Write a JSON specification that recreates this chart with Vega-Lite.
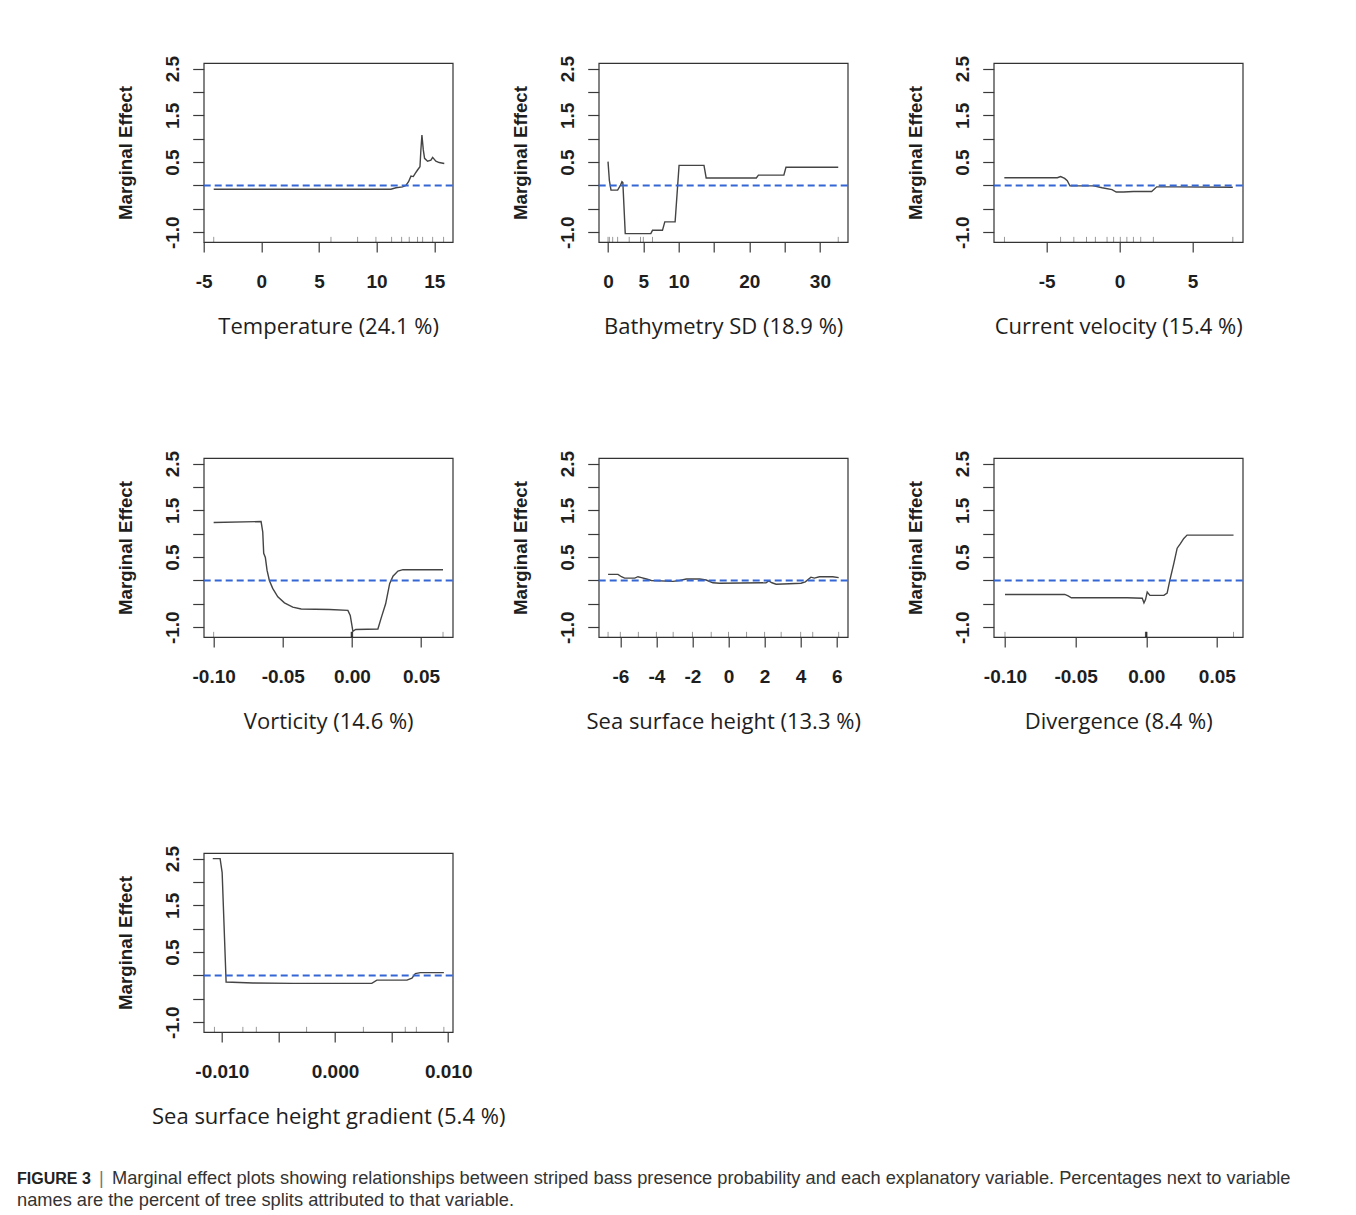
{
  "$schema": "https://vega.github.io/schema/vega-lite/v6.json",
  "padding": {"left": 17, "top": 54, "right": 0, "bottom": 0},
  "background": "white",
  "datasets": {
    "zero": [{"y": 0}],
    "caption": [
      {"line": 1, "part": "head", "text": "FIGURE 3"},
      {"line": 1, "part": "bar", "text": "|"},
      {"line": 1, "part": "body", "text": "Marginal effect plots showing relationships between striped bass presence probability and each explanatory variable. Percentages next to variable"},
      {"line": 2, "part": "body2", "text": "names are the percent of tree splits attributed to that variable."}
    ],
    "temp": [
      {"x": -4.13, "y": -0.08}, {"x": 11.24, "y": -0.08}, {"x": 11.68, "y": -0.05}, {"x": 12.25, "y": -0.03},
      {"x": 12.54, "y": 0.0}, {"x": 12.77, "y": 0.08}, {"x": 12.98, "y": 0.2}, {"x": 13.18, "y": 0.19},
      {"x": 13.35, "y": 0.26}, {"x": 13.55, "y": 0.33}, {"x": 13.76, "y": 0.4}, {"x": 13.84, "y": 0.76},
      {"x": 13.93, "y": 1.08}, {"x": 14.05, "y": 0.76}, {"x": 14.16, "y": 0.58}, {"x": 14.42, "y": 0.52},
      {"x": 14.71, "y": 0.54}, {"x": 14.86, "y": 0.6}, {"x": 15.14, "y": 0.52}, {"x": 15.43, "y": 0.49},
      {"x": 15.87, "y": 0.47}
    ],
    "temp_rug": [{"x": -4.13}, {"x": 6.04}, {"x": 8.35}, {"x": 9.94}, {"x": 11.3}, {"x": 12.17}, {"x": 12.83}, {"x": 13.55}, {"x": 13.99}, {"x": 14.86}, {"x": 15.81}],
    "bathy": [
      {"x": 0, "y": 0.51}, {"x": 0.19, "y": 0.11}, {"x": 0.42, "y": -0.1}, {"x": 1.36, "y": -0.1},
      {"x": 1.75, "y": 0.0}, {"x": 1.97, "y": 0.08}, {"x": 2.1, "y": 0.06}, {"x": 2.44, "y": -1.03},
      {"x": 6.06, "y": -1.03}, {"x": 6.3, "y": -0.96}, {"x": 7.71, "y": -0.96}, {"x": 8.04, "y": -0.78},
      {"x": 9.5, "y": -0.78}, {"x": 10.06, "y": 0.43}, {"x": 13.59, "y": 0.43}, {"x": 13.9, "y": 0.16},
      {"x": 21.0, "y": 0.16}, {"x": 21.3, "y": 0.22}, {"x": 24.9, "y": 0.22}, {"x": 25.2, "y": 0.39},
      {"x": 32.6, "y": 0.39}
    ],
    "bathy_rug": [{"x": 0}, {"x": 0.19}, {"x": 0.66}, {"x": 1.36}, {"x": 3.0}, {"x": 4.6}, {"x": 5.0}, {"x": 6.3}, {"x": 32.6}],
    "vel": [
      {"x": -7.91, "y": 0.165}, {"x": -4.27, "y": 0.165}, {"x": -4.05, "y": 0.19}, {"x": -3.77, "y": 0.15},
      {"x": -3.59, "y": 0.1}, {"x": -3.41, "y": -0.01}, {"x": -1.77, "y": -0.01}, {"x": -1.2, "y": -0.05},
      {"x": -0.52, "y": -0.09}, {"x": -0.23, "y": -0.14}, {"x": 0.27, "y": -0.14}, {"x": 0.95, "y": -0.13},
      {"x": 2.2, "y": -0.13}, {"x": 2.55, "y": -0.03}, {"x": 3.9, "y": -0.03}, {"x": 7.77, "y": -0.04}
    ],
    "vel_rug": [{"x": -7.9}, {"x": -4.05}, {"x": -3.14}, {"x": -2.27}, {"x": -1.66}, {"x": -0.86}, {"x": -0.41}, {"x": 0.05}, {"x": 0.5}, {"x": 0.95}, {"x": 1.45}, {"x": 2.32}, {"x": 7.77}],
    "vort": [
      {"x": -0.1, "y": 1.24}, {"x": -0.0657, "y": 1.26}, {"x": -0.0645, "y": 1.04}, {"x": -0.0638, "y": 0.58},
      {"x": -0.0626, "y": 0.49}, {"x": -0.0614, "y": 0.22}, {"x": -0.0597, "y": 0.0}, {"x": -0.0573, "y": -0.17},
      {"x": -0.0536, "y": -0.35}, {"x": -0.0488, "y": -0.48}, {"x": -0.0428, "y": -0.57}, {"x": -0.0367, "y": -0.61},
      {"x": -0.0162, "y": -0.62}, {"x": -0.0029, "y": -0.64}, {"x": -0.0012, "y": -0.75}, {"x": 0.0, "y": -0.96},
      {"x": 0.0007, "y": -1.09}, {"x": 0.0027, "y": -1.05}, {"x": 0.0188, "y": -1.04}, {"x": 0.0213, "y": -0.79},
      {"x": 0.0244, "y": -0.5}, {"x": 0.0273, "y": -0.07}, {"x": 0.0297, "y": 0.09}, {"x": 0.0333, "y": 0.2},
      {"x": 0.0369, "y": 0.23}, {"x": 0.0659, "y": 0.23}
    ],
    "vort_rug": [{"x": -0.1}, {"x": -0.0006}, {"x": -0.0004}, {"x": -0.0002}, {"x": 0.0}, {"x": 0.0002}, {"x": 0.0004}, {"x": 0.0006}, {"x": 0.0659}],
    "ssh": [
      {"x": -6.68, "y": 0.13}, {"x": -6.13, "y": 0.13}, {"x": -5.94, "y": 0.08}, {"x": -5.76, "y": 0.05},
      {"x": -5.2, "y": 0.05}, {"x": -5.02, "y": 0.08}, {"x": -4.83, "y": 0.06}, {"x": -4.55, "y": 0.03},
      {"x": -4.28, "y": 0.0}, {"x": -3.08, "y": -0.02}, {"x": -2.71, "y": 0.0}, {"x": -2.34, "y": 0.03},
      {"x": -1.6, "y": 0.03}, {"x": -1.24, "y": 0.01}, {"x": -0.87, "y": -0.05}, {"x": -0.5, "y": -0.06},
      {"x": 2.08, "y": -0.05}, {"x": 2.23, "y": -0.01}, {"x": 2.41, "y": -0.05}, {"x": 2.64, "y": -0.08},
      {"x": 3.37, "y": -0.07}, {"x": 4.02, "y": -0.06}, {"x": 4.26, "y": -0.03}, {"x": 4.57, "y": 0.07},
      {"x": 4.76, "y": 0.05}, {"x": 5.04, "y": 0.08}, {"x": 5.78, "y": 0.08}, {"x": 6.11, "y": 0.06}
    ],
    "ssh_rug": [{"x": -6.68}, {"x": -6.0}, {"x": -5.0}, {"x": -4.0}, {"x": -3.07}, {"x": -2.0}, {"x": -0.96}, {"x": 0.0}, {"x": 1.0}, {"x": 2.0}, {"x": 2.92}, {"x": 4.0}, {"x": 4.67}, {"x": 6.11}],
    "div": [
      {"x": -0.1, "y": -0.3}, {"x": -0.0577, "y": -0.3}, {"x": -0.0553, "y": -0.33}, {"x": -0.053, "y": -0.37},
      {"x": -0.0134, "y": -0.37}, {"x": -0.0028, "y": -0.38}, {"x": -0.0016, "y": -0.48}, {"x": -0.0005, "y": -0.41},
      {"x": 0.0007, "y": -0.25}, {"x": 0.0026, "y": -0.32}, {"x": 0.0125, "y": -0.32}, {"x": 0.0148, "y": -0.27},
      {"x": 0.0167, "y": 0.0}, {"x": 0.0195, "y": 0.36}, {"x": 0.0219, "y": 0.69}, {"x": 0.0242, "y": 0.79},
      {"x": 0.0266, "y": 0.9}, {"x": 0.0289, "y": 0.97}, {"x": 0.0618, "y": 0.97}
    ],
    "div_rug": [{"x": -0.1}, {"x": -0.0006}, {"x": -0.0004}, {"x": -0.0002}, {"x": 0.0}, {"x": 0.0002}, {"x": 0.0004}, {"x": 0.0006}, {"x": 0.0618}],
    "grad": [
      {"x": -0.0108, "y": 2.5}, {"x": -0.01015, "y": 2.5}, {"x": -0.00997, "y": 2.2}, {"x": -0.00962, "y": -0.14},
      {"x": -0.00725, "y": -0.16}, {"x": -0.0037, "y": -0.17}, {"x": -0.0002, "y": -0.17}, {"x": 0.00325, "y": -0.17},
      {"x": 0.0037, "y": -0.1}, {"x": 0.00636, "y": -0.1}, {"x": 0.0068, "y": -0.06}, {"x": 0.0071, "y": 0.04},
      {"x": 0.00754, "y": 0.06}, {"x": 0.00962, "y": 0.06}
    ],
    "grad_rug": [{"x": -0.01065}, {"x": -0.00814}, {"x": -0.00695}, {"x": -0.00251}, {"x": 0.00251}, {"x": 0.00621}, {"x": 0.00719}, {"x": 0.00962}]
  },
  "vconcat": [
    {
      "columns": 3,
      "bounds": "flush",
      "spacing": {"row": 216, "column": 146},
      "concat": [
        {
          "width": 249, "height": 179,
          "layer": [
            {"data": {"name": "temp"}, "mark": {"type": "line", "color": "#444444", "strokeWidth": 1.4},
             "encoding": {
               "x": {"field": "x", "type": "quantitative", "scale": {"domain": [-5, 16.6], "nice": false, "zero": false}, "axis": {"values": [-5, 0, 5, 10, 15], "title": "Temperature (24.1 %)", "labelExpr": "replace(datum.label, '−', '-')"}},
               "y": {"field": "y", "type": "quantitative", "scale": {"domain": [-1.21, 2.62], "nice": false, "zero": false}, "axis": {"values": [-1, -0.5, 0, 0.5, 1, 1.5, 2, 2.5], "format": ".1f", "title": "Marginal Effect", "labelExpr": "indexof(['2.5', '1.5', '0.5', '-1.0', '−1.0'], datum.label) >= 0 ? replace(datum.label, '−', '-') : ''"}}
             }},
            {"data": {"name": "temp_rug"}, "mark": {"type": "rule", "color": "#000000", "opacity": 0.4, "strokeWidth": 1}, "encoding": {"x": {"field": "x", "type": "quantitative"}, "y": {"datum": -1.21, "type": "quantitative", "axis": {"values": [-1, -0.5, 0, 0.5, 1, 1.5, 2, 2.5], "format": ".1f", "title": "Marginal Effect", "labelExpr": "indexof(['2.5', '1.5', '0.5', '-1.0', '−1.0'], datum.label) >= 0 ? replace(datum.label, '−', '-') : ''"}}, "y2": {"datum": -1.1}}},
            {"data": {"name": "zero"}, "mark": {"type": "rule", "color": "#3566d6", "strokeDash": [7, 4], "strokeWidth": 2}, "encoding": {"y": {"field": "y", "type": "quantitative", "axis": {"values": [-1, -0.5, 0, 0.5, 1, 1.5, 2, 2.5], "format": ".1f", "title": "Marginal Effect", "labelExpr": "indexof(['2.5', '1.5', '0.5', '-1.0', '−1.0'], datum.label) >= 0 ? replace(datum.label, '−', '-') : ''"}}}}
          ]
        },
        {
          "width": 249, "height": 179,
          "layer": [
            {"data": {"name": "bathy"}, "mark": {"type": "line", "color": "#444444", "strokeWidth": 1.4},
             "encoding": {
               "x": {"field": "x", "type": "quantitative", "scale": {"domain": [-1.32, 33.94], "nice": false, "zero": false}, "axis": {"values": [0, 5, 10, 15, 20, 25, 30], "title": "Bathymetry SD (18.9 %)", "labelExpr": "datum.value == 15 || datum.value == 25 ? '' : datum.label"}},
               "y": {"field": "y", "type": "quantitative", "scale": {"domain": [-1.21, 2.62], "nice": false, "zero": false}, "axis": {"values": [-1, -0.5, 0, 0.5, 1, 1.5, 2, 2.5], "format": ".1f", "title": "Marginal Effect", "labelExpr": "indexof(['2.5', '1.5', '0.5', '-1.0', '−1.0'], datum.label) >= 0 ? replace(datum.label, '−', '-') : ''"}}
             }},
            {"data": {"name": "bathy_rug"}, "mark": {"type": "rule", "color": "#000000", "opacity": 0.4, "strokeWidth": 1}, "encoding": {"x": {"field": "x", "type": "quantitative"}, "y": {"datum": -1.21, "type": "quantitative", "axis": {"values": [-1, -0.5, 0, 0.5, 1, 1.5, 2, 2.5], "format": ".1f", "title": "Marginal Effect", "labelExpr": "indexof(['2.5', '1.5', '0.5', '-1.0', '−1.0'], datum.label) >= 0 ? replace(datum.label, '−', '-') : ''"}}, "y2": {"datum": -1.1}}},
            {"data": {"name": "zero"}, "mark": {"type": "rule", "color": "#3566d6", "strokeDash": [7, 4], "strokeWidth": 2}, "encoding": {"y": {"field": "y", "type": "quantitative", "axis": {"values": [-1, -0.5, 0, 0.5, 1, 1.5, 2, 2.5], "format": ".1f", "title": "Marginal Effect", "labelExpr": "indexof(['2.5', '1.5', '0.5', '-1.0', '−1.0'], datum.label) >= 0 ? replace(datum.label, '−', '-') : ''"}}}}
          ]
        },
        {
          "width": 249, "height": 179,
          "layer": [
            {"data": {"name": "vel"}, "mark": {"type": "line", "color": "#444444", "strokeWidth": 1.4},
             "encoding": {
               "x": {"field": "x", "type": "quantitative", "scale": {"domain": [-8.64, 8.45], "nice": false, "zero": false}, "axis": {"values": [-5, 0, 5], "title": "Current velocity (15.4 %)", "labelExpr": "replace(datum.label, '−', '-')"}},
               "y": {"field": "y", "type": "quantitative", "scale": {"domain": [-1.21, 2.62], "nice": false, "zero": false}, "axis": {"values": [-1, -0.5, 0, 0.5, 1, 1.5, 2, 2.5], "format": ".1f", "title": "Marginal Effect", "labelExpr": "indexof(['2.5', '1.5', '0.5', '-1.0', '−1.0'], datum.label) >= 0 ? replace(datum.label, '−', '-') : ''"}}
             }},
            {"data": {"name": "vel_rug"}, "mark": {"type": "rule", "color": "#000000", "opacity": 0.4, "strokeWidth": 1}, "encoding": {"x": {"field": "x", "type": "quantitative"}, "y": {"datum": -1.21, "type": "quantitative", "axis": {"values": [-1, -0.5, 0, 0.5, 1, 1.5, 2, 2.5], "format": ".1f", "title": "Marginal Effect", "labelExpr": "indexof(['2.5', '1.5', '0.5', '-1.0', '−1.0'], datum.label) >= 0 ? replace(datum.label, '−', '-') : ''"}}, "y2": {"datum": -1.1}}},
            {"data": {"name": "zero"}, "mark": {"type": "rule", "color": "#3566d6", "strokeDash": [7, 4], "strokeWidth": 2}, "encoding": {"y": {"field": "y", "type": "quantitative", "axis": {"values": [-1, -0.5, 0, 0.5, 1, 1.5, 2, 2.5], "format": ".1f", "title": "Marginal Effect", "labelExpr": "indexof(['2.5', '1.5', '0.5', '-1.0', '−1.0'], datum.label) >= 0 ? replace(datum.label, '−', '-') : ''"}}}}
          ]
        },
        {
          "width": 249, "height": 179,
          "layer": [
            {"data": {"name": "vort"}, "mark": {"type": "line", "color": "#444444", "strokeWidth": 1.4},
             "encoding": {
               "x": {"field": "x", "type": "quantitative", "scale": {"domain": [-0.1072, 0.0729], "nice": false, "zero": false}, "axis": {"values": [-0.1, -0.05, 0, 0.05], "format": ".2f", "title": "Vorticity (14.6 %)", "labelExpr": "replace(datum.label, '−', '-')"}},
               "y": {"field": "y", "type": "quantitative", "scale": {"domain": [-1.21, 2.62], "nice": false, "zero": false}, "axis": {"values": [-1, -0.5, 0, 0.5, 1, 1.5, 2, 2.5], "format": ".1f", "title": "Marginal Effect", "labelExpr": "indexof(['2.5', '1.5', '0.5', '-1.0', '−1.0'], datum.label) >= 0 ? replace(datum.label, '−', '-') : ''"}}
             }},
            {"data": {"name": "vort_rug"}, "mark": {"type": "rule", "color": "#000000", "opacity": 0.4, "strokeWidth": 1}, "encoding": {"x": {"field": "x", "type": "quantitative"}, "y": {"datum": -1.21, "type": "quantitative", "axis": {"values": [-1, -0.5, 0, 0.5, 1, 1.5, 2, 2.5], "format": ".1f", "title": "Marginal Effect", "labelExpr": "indexof(['2.5', '1.5', '0.5', '-1.0', '−1.0'], datum.label) >= 0 ? replace(datum.label, '−', '-') : ''"}}, "y2": {"datum": -1.1}}},
            {"data": {"name": "zero"}, "mark": {"type": "rule", "color": "#3566d6", "strokeDash": [7, 4], "strokeWidth": 2}, "encoding": {"y": {"field": "y", "type": "quantitative", "axis": {"values": [-1, -0.5, 0, 0.5, 1, 1.5, 2, 2.5], "format": ".1f", "title": "Marginal Effect", "labelExpr": "indexof(['2.5', '1.5', '0.5', '-1.0', '−1.0'], datum.label) >= 0 ? replace(datum.label, '−', '-') : ''"}}}}
          ]
        },
        {
          "width": 249, "height": 179,
          "layer": [
            {"data": {"name": "ssh"}, "mark": {"type": "line", "color": "#444444", "strokeWidth": 1.4},
             "encoding": {
               "x": {"field": "x", "type": "quantitative", "scale": {"domain": [-7.2, 6.61], "nice": false, "zero": false}, "axis": {"values": [-6, -4, -2, 0, 2, 4, 6], "title": "Sea surface height (13.3 %)", "labelExpr": "replace(datum.label, '−', '-')"}},
               "y": {"field": "y", "type": "quantitative", "scale": {"domain": [-1.21, 2.62], "nice": false, "zero": false}, "axis": {"values": [-1, -0.5, 0, 0.5, 1, 1.5, 2, 2.5], "format": ".1f", "title": "Marginal Effect", "labelExpr": "indexof(['2.5', '1.5', '0.5', '-1.0', '−1.0'], datum.label) >= 0 ? replace(datum.label, '−', '-') : ''"}}
             }},
            {"data": {"name": "ssh_rug"}, "mark": {"type": "rule", "color": "#000000", "opacity": 0.4, "strokeWidth": 1}, "encoding": {"x": {"field": "x", "type": "quantitative"}, "y": {"datum": -1.21, "type": "quantitative", "axis": {"values": [-1, -0.5, 0, 0.5, 1, 1.5, 2, 2.5], "format": ".1f", "title": "Marginal Effect", "labelExpr": "indexof(['2.5', '1.5', '0.5', '-1.0', '−1.0'], datum.label) >= 0 ? replace(datum.label, '−', '-') : ''"}}, "y2": {"datum": -1.1}}},
            {"data": {"name": "zero"}, "mark": {"type": "rule", "color": "#3566d6", "strokeDash": [7, 4], "strokeWidth": 2}, "encoding": {"y": {"field": "y", "type": "quantitative", "axis": {"values": [-1, -0.5, 0, 0.5, 1, 1.5, 2, 2.5], "format": ".1f", "title": "Marginal Effect", "labelExpr": "indexof(['2.5', '1.5', '0.5', '-1.0', '−1.0'], datum.label) >= 0 ? replace(datum.label, '−', '-') : ''"}}}}
          ]
        },
        {
          "width": 249, "height": 179,
          "layer": [
            {"data": {"name": "div"}, "mark": {"type": "line", "color": "#444444", "strokeWidth": 1.4},
             "encoding": {
               "x": {"field": "x", "type": "quantitative", "scale": {"domain": [-0.108, 0.0683], "nice": false, "zero": false}, "axis": {"values": [-0.1, -0.05, 0, 0.05], "format": ".2f", "title": "Divergence (8.4 %)", "labelExpr": "replace(datum.label, '−', '-')"}},
               "y": {"field": "y", "type": "quantitative", "scale": {"domain": [-1.21, 2.62], "nice": false, "zero": false}, "axis": {"values": [-1, -0.5, 0, 0.5, 1, 1.5, 2, 2.5], "format": ".1f", "title": "Marginal Effect", "labelExpr": "indexof(['2.5', '1.5', '0.5', '-1.0', '−1.0'], datum.label) >= 0 ? replace(datum.label, '−', '-') : ''"}}
             }},
            {"data": {"name": "div_rug"}, "mark": {"type": "rule", "color": "#000000", "opacity": 0.4, "strokeWidth": 1}, "encoding": {"x": {"field": "x", "type": "quantitative"}, "y": {"datum": -1.21, "type": "quantitative", "axis": {"values": [-1, -0.5, 0, 0.5, 1, 1.5, 2, 2.5], "format": ".1f", "title": "Marginal Effect", "labelExpr": "indexof(['2.5', '1.5', '0.5', '-1.0', '−1.0'], datum.label) >= 0 ? replace(datum.label, '−', '-') : ''"}}, "y2": {"datum": -1.1}}},
            {"data": {"name": "zero"}, "mark": {"type": "rule", "color": "#3566d6", "strokeDash": [7, 4], "strokeWidth": 2}, "encoding": {"y": {"field": "y", "type": "quantitative", "axis": {"values": [-1, -0.5, 0, 0.5, 1, 1.5, 2, 2.5], "format": ".1f", "title": "Marginal Effect", "labelExpr": "indexof(['2.5', '1.5', '0.5', '-1.0', '−1.0'], datum.label) >= 0 ? replace(datum.label, '−', '-') : ''"}}}}
          ]
        },
        {
          "width": 249, "height": 179,
          "layer": [
            {"data": {"name": "grad"}, "mark": {"type": "line", "color": "#444444", "strokeWidth": 1.4},
             "encoding": {
               "x": {"field": "x", "type": "quantitative", "scale": {"domain": [-0.0116, 0.0104], "nice": false, "zero": false}, "axis": {"values": [-0.01, -0.005, 0, 0.005, 0.01], "format": ".3f", "title": "Sea surface height gradient (5.4 %)", "labelExpr": "abs(datum.value) > 0.004 && abs(datum.value) < 0.006 ? '' : replace(datum.label, '−', '-')"}},
               "y": {"field": "y", "type": "quantitative", "scale": {"domain": [-1.21, 2.62], "nice": false, "zero": false}, "axis": {"values": [-1, -0.5, 0, 0.5, 1, 1.5, 2, 2.5], "format": ".1f", "title": "Marginal Effect", "labelExpr": "indexof(['2.5', '1.5', '0.5', '-1.0', '−1.0'], datum.label) >= 0 ? replace(datum.label, '−', '-') : ''"}}
             }},
            {"data": {"name": "grad_rug"}, "mark": {"type": "rule", "color": "#000000", "opacity": 0.4, "strokeWidth": 1}, "encoding": {"x": {"field": "x", "type": "quantitative"}, "y": {"datum": -1.21, "type": "quantitative", "axis": {"values": [-1, -0.5, 0, 0.5, 1, 1.5, 2, 2.5], "format": ".1f", "title": "Marginal Effect", "labelExpr": "indexof(['2.5', '1.5', '0.5', '-1.0', '−1.0'], datum.label) >= 0 ? replace(datum.label, '−', '-') : ''"}}, "y2": {"datum": -1.1}}},
            {"data": {"name": "zero"}, "mark": {"type": "rule", "color": "#3566d6", "strokeDash": [7, 4], "strokeWidth": 2}, "encoding": {"y": {"field": "y", "type": "quantitative", "axis": {"values": [-1, -0.5, 0, 0.5, 1, 1.5, 2, 2.5], "format": ".1f", "title": "Marginal Effect", "labelExpr": "indexof(['2.5', '1.5', '0.5', '-1.0', '−1.0'], datum.label) >= 0 ? replace(datum.label, '−', '-') : ''"}}}}
          ]
        }
      ]
    },
    {
      "width": 1414,
      "height": 44,
      "view": {"stroke": null},
      "data": {"name": "caption"},
      "layer": [
        {
          "transform": [{"filter": "datum.part == 'head'"}],
          "mark": {"type": "text", "align": "left", "baseline": "middle", "font": "Liberation Sans", "fontSize": 16, "fontWeight": "bold", "color": "#222222"},
          "encoding": {"text": {"field": "text"}, "x": {"value": 0}, "y": {"field": "line", "type": "ordinal", "axis": null}}
        },
        {
          "transform": [{"filter": "datum.part == 'bar'"}],
          "mark": {"type": "text", "align": "left", "baseline": "middle", "font": "Liberation Sans", "fontSize": 18.25, "color": "#777777", "dx": 82},
          "encoding": {"text": {"field": "text"}, "x": {"value": 0}, "y": {"field": "line", "type": "ordinal", "axis": null}}
        },
        {
          "transform": [{"filter": "datum.part == 'body'"}],
          "mark": {"type": "text", "align": "left", "baseline": "middle", "font": "Liberation Sans", "fontSize": 18.25, "color": "#333333", "dx": 95},
          "encoding": {"text": {"field": "text"}, "x": {"value": 0}, "y": {"field": "line", "type": "ordinal", "axis": null}}
        },
        {
          "transform": [{"filter": "datum.part == 'body2'"}],
          "mark": {"type": "text", "align": "left", "baseline": "middle", "font": "Liberation Sans", "fontSize": 18.25, "color": "#333333"},
          "encoding": {"text": {"field": "text"}, "x": {"value": 0}, "y": {"field": "line", "type": "ordinal", "axis": null}}
        }
      ]
    }
  ],
  "spacing": 40,
  "center": true,
  "config": {
    "font": "Liberation Sans",
    "view": {"stroke": "#333333", "strokeWidth": 1.2},
    "axis": {
      "grid": false, "domain": false, "tickColor": "#3a3a3a", "tickWidth": 1.2,
      "labelFont": "Liberation Sans", "labelFontSize": 19, "labelFontWeight": "bold", "labelColor": "#1e1e1e",
      "labelOverlap": false, "labelFlush": false, "labelBound": false, "titleColor": "#1e1e1e"
    },
    "axisX": {"tickSize": 10, "labelPadding": 20, "titleFont": "Open Sans", "titleFontSize": 22, "titleFontWeight": "normal", "titlePadding": 25},
    "axisY": {"tickSize": 11, "labelPadding": 10, "labelAngle": -90, "labelAlign": "center", "labelBaseline": "bottom", "titleFont": "Liberation Sans", "titleFontSize": 18.7, "titleFontWeight": "bold", "titlePadding": 28}
  }
}
